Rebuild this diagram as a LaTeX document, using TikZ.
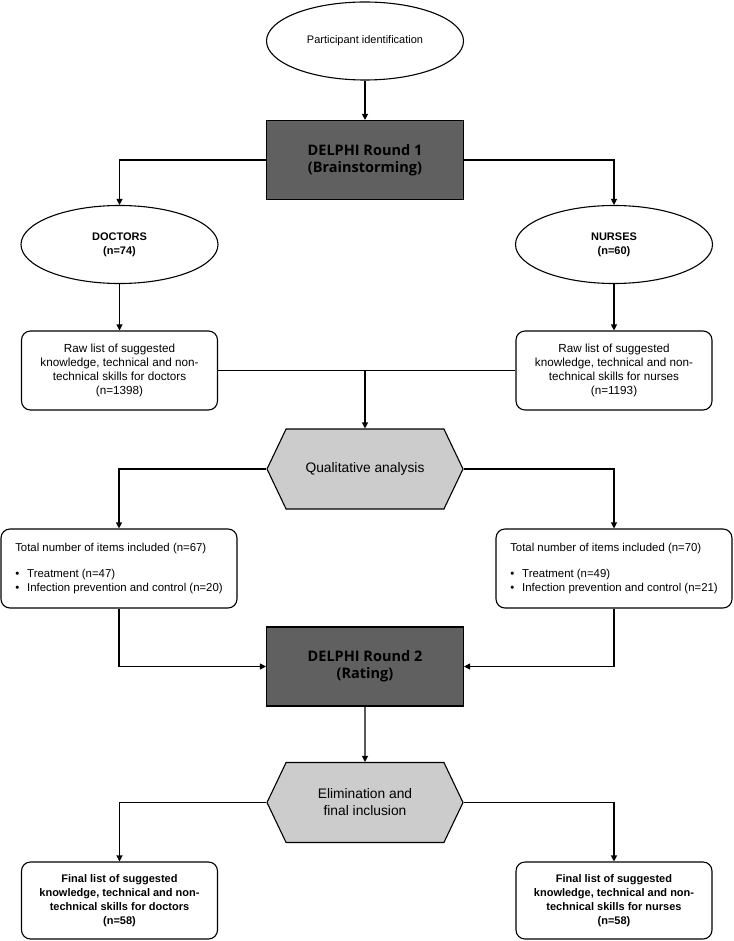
\documentclass[tikz,border=0pt]{standalone}
\usepackage{fontspec}
\setmainfont{Liberation Sans}
\newfontfamily\roundfont{Open Sans}
\usetikzlibrary{arrows.meta,positioning,shapes.geometric,shapes.symbols}
\definecolor{rounddark}{HTML}{606060}
\definecolor{steplight}{HTML}{CCCCCC}
\begin{document}
\begin{tikzpicture}[x=1pt,y=-1pt]
		\tikzset{every node/.style={font=\fontsize{11}{14}\selectfont,align=center,inner sep=0pt,line width=1.1pt},
			flowline/.style={draw,line width=1.1pt},
			flowarrow/.style={flowline,-{Triangle[length=6pt,width=6pt]}},
			oval/.style={draw,ellipse,minimum width=197pt,minimum height=78pt,fill=white},
			roundbox/.style={draw,rectangle,minimum width=197pt,minimum height=79pt,fill=rounddark,font=\roundfont\bfseries\fontsize{14.5}{17}\selectfont},
			listbox/.style={draw,rectangle,rounded corners=9pt,minimum width=196pt,minimum height=79pt,font=\fontsize{11.7}{14}\selectfont},
			itembox/.style={draw,rectangle,rounded corners=9pt,minimum width=236pt,minimum height=79pt,align=left,font=\fontsize{11.4}{14}\selectfont},
			stepbox/.style={draw,signal,signal to=east and west,signal pointer angle=129,minimum width=196pt,minimum height=80pt,fill=steplight,font=\fontsize{13.8}{17}\selectfont}}
		\useasboundingbox (0,0) rectangle (733,941);
		% round 1
		\node[oval] (part) at (365,41) {Participant identification};
		\node[roundbox] (round1) at (365,160) {DELPHI Round 1\\ (Brainstorming)};
		\node[oval,font=\bfseries\fontsize{11}{14}\selectfont] (doctors) at (119.5,244.5) {DOCTORS\\(n=74)};
		\node[oval,font=\bfseries\fontsize{11}{14}\selectfont] (nurses) at (614,244.5) {NURSES\\(n=60)};
		\node[listbox] (rawdoc) at (119.5,370.5) {Raw list of suggested\\knowledge, technical and non-\\technical skills for doctors\\(n=1398)};
		\node[listbox] (rawnur) at (614,370.5) {Raw list of suggested\\knowledge, technical and non-\\technical skills for nurses\\(n=1193)};
		\node[stepbox] (qual) at (365,469) {Qualitative analysis};
		% items
		\node[itembox] (itemdoc) at (119,568.5) {Total number of items included (n=67)\\[12pt]
			\textbullet\hspace{8pt}Treatment (n=47)\\
			\textbullet\hspace{8pt}Infection prevention and control (n=20)};
		\node[itembox] (itemnur) at (614,568.5) {Total number of items included (n=70)\\[12pt]
			\textbullet\hspace{8pt}Treatment (n=49)\\
			\textbullet\hspace{8pt}Infection prevention and control (n=21)};
		% round 2
		\node[roundbox] (round2) at (365,666.5) {DELPHI Round 2\\ (Rating)};
		\node[stepbox] (elim) at (365,802.5) {Elimination and\\final inclusion};
		\node[listbox,minimum height=77pt,font=\bfseries\fontsize{11}{14}\selectfont] (finaldoc) at (119.5,900.5) {Final list of suggested\\knowledge, technical and non-\\technical skills for doctors\\(n=58)};
		\node[listbox,minimum height=77pt,font=\bfseries\fontsize{11}{14}\selectfont] (finalnur) at (614,900.5) {Final list of suggested\\knowledge, technical and non-\\technical skills for nurses\\(n=58)};
		% connectors
		\draw[flowarrow] (part) -- (round1);
		\draw[flowarrow] (round1.west) -| (doctors.north);
		\draw[flowarrow] (round1.east) -| (nurses.north);
		\draw[flowarrow] (doctors) -- (rawdoc);
		\draw[flowarrow] (nurses) -- (rawnur);
		\draw[flowline] (rawdoc) -- (rawnur);
		\draw[flowarrow] (qual.north |- rawdoc.east) -- (qual.north);
		\draw[flowarrow] (qual.west) -| (itemdoc.north);
		\draw[flowarrow] (qual.east) -| (itemnur.north);
		\draw[flowarrow] (itemdoc.south) |- (round2.west);
		\draw[flowarrow] (itemnur.south) |- (round2.east);
		\draw[flowarrow] (round2) -- (elim);
		\draw[flowarrow] (elim.west) -| (finaldoc.north);
		\draw[flowarrow] (elim.east) -| (finalnur.north);
	\end{tikzpicture}
\end{document}
